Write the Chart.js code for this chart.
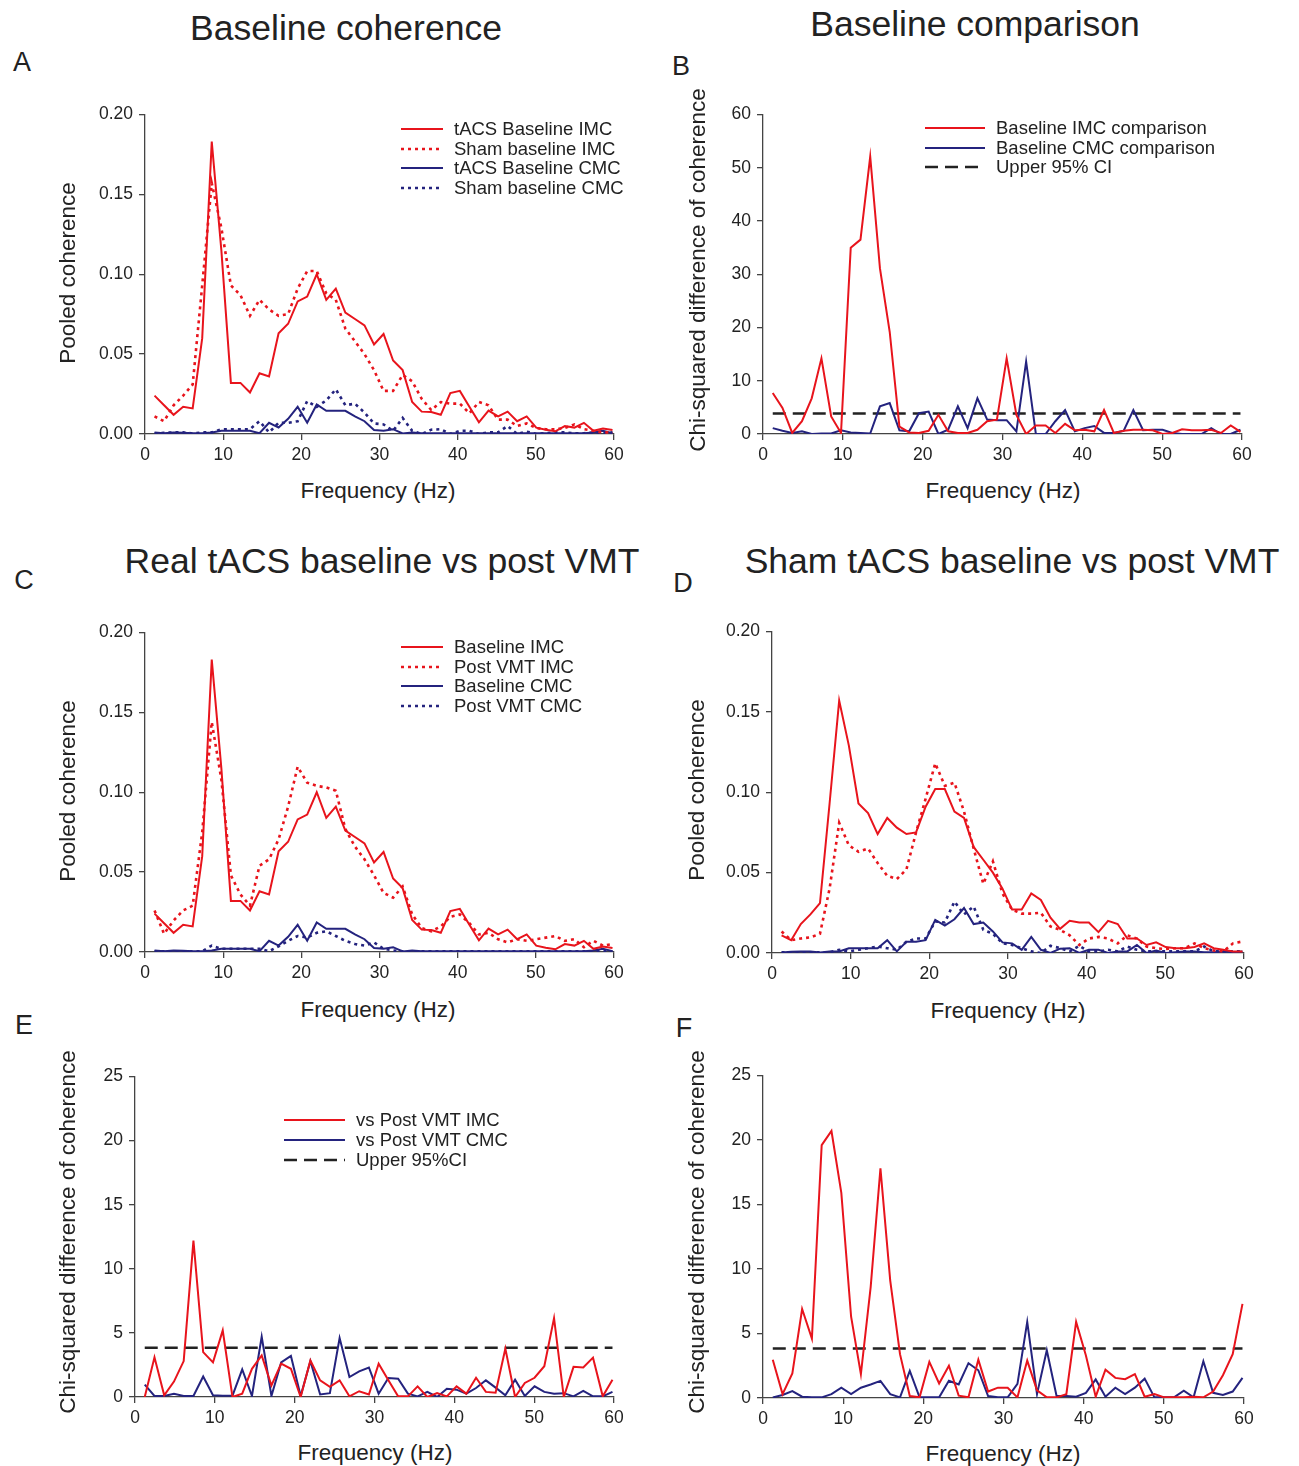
<!DOCTYPE html>
<html>
<head>
<meta charset="utf-8">
<script src="https://cdn.jsdelivr.net/npm/chart.js@4.4.1/dist/chart.umd.min.js"></script>
<style>
body{margin:0;background:#fff;width:1299px;height:1466px;position:relative;overflow:hidden;font-family:"Liberation Sans",Arial,sans-serif;color:#222}
canvas{position:absolute}
.t{position:absolute;white-space:nowrap;line-height:1}
.title{font-size:35.5px;transform:translate(-50%,-50%)}
.letter{font-size:27px;transform:translate(-50%,-50%)}
.xt{font-size:22.5px;transform:translate(-50%,-50%)}
.yt{font-size:22.5px;transform:translate(-50%,-50%) rotate(-90deg)}
.leg{font-size:18.5px;transform:translateY(-50%)}
svg{position:absolute}
</style>
</head>
<body>
<script>
// frequency bins (Hz)
const freqs = [1.22, 2.44, 3.66, 4.88, 6.10, 7.32, 8.54, 9.77, 10.99, 12.21, 13.43, 14.65, 15.87, 17.09, 18.31, 19.53, 20.75, 21.97, 23.19, 24.41,
  25.63, 26.86, 28.08, 29.30, 30.52, 31.74, 32.96, 34.18, 35.40, 36.62, 37.84, 39.06, 40.28, 41.50, 42.72, 43.95, 45.17, 46.39, 47.61, 48.83,
  50.05, 51.27, 52.49, 53.71, 54.93, 56.15, 57.37, 58.59, 59.81];

const freqTicks = [0, 10, 20, 30, 40, 50, 60];
const cohTicks = [0, 0.05, 0.10, 0.15, 0.20];
const chiTicksB = [0, 10, 20, 30, 40, 50, 60];
const chiTicksEF = [0, 5, 10, 15, 20, 25];
const ciLevel = 3.84;

// pooled coherence
const tacsBaseIMC = [0.024, 0.018, 0.012, 0.017, 0.016, 0.060, 0.183, 0.115, 0.032, 0.032, 0.026, 0.038, 0.036, 0.063, 0.069, 0.083, 0.086, 0.100, 0.084, 0.091,
  0.076, 0.072, 0.068, 0.056, 0.0626, 0.046, 0.040, 0.020, 0.014, 0.0137, 0.012, 0.0256, 0.027, 0.017, 0.0073, 0.0146, 0.011, 0.014, 0.008, 0.011,
  0.004, 0.0027, 0.0017, 0.005, 0.004, 0.007, 0.002, 0.0035, 0.0025];
const shamBaseIMC = [0.011, 0.008, 0.018, 0.024, 0.031, 0.093, 0.157, 0.129, 0.093, 0.087, 0.074, 0.084, 0.078, 0.074, 0.075, 0.091, 0.102, 0.102, 0.088, 0.084,
  0.066, 0.058, 0.050, 0.040, 0.027, 0.027, 0.037, 0.033, 0.022, 0.015, 0.020, 0.019, 0.019, 0.013, 0.020, 0.018, 0.009, 0.009, 0.005, 0.0066,
  0.0037, 0.003, 0.003, 0.0037, 0.006, 0.003, 0.002, 0.001, 0.001];
const tacsBaseCMC = [0.001, 0.0005, 0.001, 0.0008, 0.0005, 0.0005, 0.001, 0.002, 0.002, 0.002, 0.002, 0.0005, 0.007, 0.004, 0.0095, 0.017, 0.007, 0.0185, 0.0145, 0.0145,
  0.0145, 0.011, 0.008, 0.0025, 0.002, 0.003, 0.0003, 0.001, 0.0005, 0.0005, 0.0005, 0.0005, 0.0005, 0.0005, 0.0005, 0.0005, 0.0005, 0.0005, 0.0005, 0.0005,
  0.0005, 0.0005, 0.0005, 0.0005, 0.0005, 0.0005, 0.001, 0.002, 0.0005];
const shamBaseCMC = [0.0003, 0.0008, 0.001, 0.001, 0.0003, 0.001, 0.001, 0.003, 0.003, 0.003, 0.003, 0.008, 0.001, 0.007, 0.007, 0.008, 0.0206, 0.017, 0.021, 0.028,
  0.018, 0.019, 0.0134, 0.0066, 0.006, 0.002, 0.010, 0.002, 0, 0.0027, 0.003, 0, 0.002, 0.002, 0, 0.001, 0.001, 0.005, 0, 0.0015,
  0, 0.0005, 0.001, 0.001, 0.0005, 0.0005, 0.001, 0.0005, 0.001];
const postVmtIMC = [0.026, 0.0114, 0.0197, 0.026, 0.029, 0.075, 0.144, 0.108, 0.048, 0.036, 0.029, 0.054, 0.058, 0.0705, 0.091, 0.116, 0.106, 0.104, 0.103, 0.101,
  0.077, 0.066, 0.058, 0.048, 0.037, 0.034, 0.041, 0.0235, 0.015, 0.013, 0.016, 0.022, 0.0235, 0.018, 0.011, 0.012, 0.008, 0.006, 0.008, 0.007,
  0.008, 0.009, 0.010, 0.007, 0.008, 0.003, 0.007, 0.004, 0.005];
const postVmtCMC = [0.0005, 0.0005, 0.0005, 0.0005, 0.0005, 0.0005, 0.004, 0.002, 0.002, 0.002, 0.002, 0.002, 0.0005, 0.0035, 0.007, 0.010, 0.009, 0.012, 0.013, 0.010,
  0.007, 0.005, 0.004, 0.006, 0.002, 0.001, 0.0005, 0.0005, 0.0005, 0.0005, 0.0005, 0.0005, 0.0005, 0.0005, 0.0005, 0.0005, 0.0005, 0.0005, 0.0005, 0.0005,
  0.0005, 0.0005, 0.0005, 0.0005, 0.0005, 0.0005, 0.0005, 0.0005, 0.0005];
const shamPostIMC = [0.0134, 0.008, 0.009, 0.0097, 0.012, 0.040, 0.081, 0.067, 0.063, 0.065, 0.056, 0.048, 0.046, 0.052, 0.075, 0.096, 0.118, 0.104, 0.106, 0.088,
  0.065, 0.043, 0.057, 0.037, 0.027, 0.0245, 0.0245, 0.025, 0.0165, 0.0144, 0.011, 0.005, 0.009, 0.010, 0.009, 0.006, 0.011, 0.009, 0.004, 0.003,
  0.0025, 0.003, 0.003, 0.006, 0.003, 0.0016, 0.001, 0.006, 0.0072];
const shamPostCMC = [0.0005, 0.0005, 0.0005, 0.0005, 0.0005, 0.0005, 0.002, 0.001, 0.002, 0.003, 0.004, 0.003, 0.002, 0.007, 0.009, 0.009, 0.0196, 0.019, 0.032, 0.024,
  0.029, 0.0144, 0.012, 0.006, 0.005, 0.003, 0.001, 0, 0.0045, 0.003, 0.001, 0.0045, 0.001, 0.001, 0.002, 0.001, 0.004, 0.002, 0.001, 0.001,
  0.001, 0.001, 0.001, 0.001, 0.004, 0.001, 0.001, 0.001, 0.001];

// chi-squared difference of coherence
const chiBaseIMC = [7.7, 4.9, 0.2, 2.4, 6.7, 14.2, 3.3, 0.2, 35.0, 36.5, 52.1, 31.1, 19.2, 1.4, 0.3, 0.2, 0.6, 3.6, 0.5, 0.2,
  0.2, 0.8, 2.4, 2.7, 14.2, 3.6, 0, 1.6, 1.6, 0.2, 1.9, 0.7, 0.8, 0.5, 4.5, 0.2, 0.6, 0.8, 0.8, 0.7,
  0, 0.2, 0.9, 0.7, 0.7, 0.8, 0.2, 1.6, 0.4];
const chiBaseCMC = [1.1, 0.6, 0.2, 0.5, 0, 0.1, 0.1, 0.7, 0.3, 0.2, 0.1, 5.2, 5.8, 0.7, 0.5, 3.9, 4.2, 0, 0.8, 5.2,
  1.1, 6.7, 2.7, 2.6, 2.6, 0.5, 13.6, 0, 0, 2.4, 4.5, 0.5, 1.1, 1.5, 0.2, 0.2, 0.6, 4.5, 0.7, 0.8,
  0.8, 0.2, 0, 0, 0, 1.1, 0, 0, 0.8];
const chiRealIMC = [0, 3.1, 0.13, 1.2, 2.8, 12.2, 3.5, 2.7, 5.2, 0, 0.26, 2.2, 3.25, 0.9, 2.6, 2.2, 0, 2.85, 1.3, 0.8,
  1.3, 0.05, 0.45, 0.2, 2.6, 1.3, 0.05, 0.05, 0.83, 0, 0.3, 0.05, 0.83, 0.26, 1.5, 0.4, 0.34, 3.77, 0, 1.1,
  1.5, 2.4, 6.15, 0, 2.35, 2.3, 3.07, 0.05, 1.35];
const chiRealCMC = [0.96, 0.08, 0.08, 0.26, 0.08, 0.08, 1.6, 0.13, 0.1, 0.1, 2.15, 0.08, 4.7, 0.08, 2.7, 3.2, 0.08, 2.8, 0.2, 0.3,
  4.6, 1.56, 2.0, 2.3, 0.26, 1.48, 1.43, 0.26, 0.05, 0.4, 0, 0.65, 0.57, 0.26, 0.7, 1.3, 0.73, 0.13, 1.35, 0.08,
  0.83, 0.4, 0.26, 0.3, 0.05, 0.47, 0.05, 0.05, 0.4];
const chiShamIMC = [2.97, 0.3, 1.9, 6.9, 4.6, 19.6, 20.7, 15.9, 6.3, 1.85, 8.6, 17.8, 9.1, 3.4, 0.15, 0.05, 2.8, 1.13, 2.5, 0.18,
  0.05, 2.97, 0.5, 0.8, 0.8, 0.05, 2.9, 0.6, 0.05, 0.05, 0.3, 5.9, 3.3, 0.1, 2.2, 1.56, 1.46, 1.85, 0.1, 0.3,
  0.05, 0.05, 0.05, 0.1, 0.05, 0.5, 1.77, 3.4, 7.3];
const chiShamCMC = [0.05, 0.23, 0.54, 0.1, 0.05, 0.05, 0.3, 0.8, 0.3, 0.8, 1.05, 1.33, 0.3, 0.05, 2.1, 0.05, 0.05, 0.05, 1.33, 1.05,
  2.7, 2.15, 0.15, 0.05, 0.05, 1.1, 5.9, 0.3, 3.7, 0.15, 0.15, 0.1, 0.4, 1.44, 0.1, 0.8, 0.3, 0.8, 1.5, 0.05,
  0.05, 0.05, 0.56, 0.05, 2.85, 0.4, 0.23, 0.5, 1.56];

const RED = '#e8141c';
const BLUE = '#24237e';
const DOT = [3, 4];
const DASH = [13, 7];

Chart.defaults.font.family = '"Liberation Sans", Arial, sans-serif';
Chart.defaults.color = '#222';

function series(label, vals, color, dash) {
  return {
    label: label,
    data: freqs.map((f, i) => ({x: f, y: vals[i]})),
    borderColor: color,
    borderWidth: dash ? 2.6 : 2,
    borderDash: dash || [],
    pointRadius: 0,
    fill: false,
    tension: 0
  };
}

function ciLine(label) {
  return series(label, freqs.map(() => ciLevel), '#222', DASH);
}

function panel(box, datasets, yTicks, yFmt) {
  const ML = 70, MT = 15, MR = 22, MB = 40;
  const w = box.x1 - box.x0 + ML + MR, h = box.yb - box.yt + MT + MB;
  const c = document.createElement('canvas');
  c.width = w; c.height = h;
  c.style.left = (box.x0 - ML) + 'px';
  c.style.top = (box.yt - MT) + 'px';
  c.style.width = w + 'px';
  c.style.height = h + 'px';
  document.body.appendChild(c);
  const axis = {
    grid: {display: true, drawOnChartArea: false, drawTicks: true, tickLength: 6, color: '#444', lineWidth: 1.3},
    border: {display: true, color: '#444', width: 1.3}
  };
  return new Chart(c, {
    type: 'line',
    data: {datasets: datasets},
    options: {
      responsive: false,
      animation: false,
      devicePixelRatio: 1,
      layout: {padding: {left: 0, top: MT, right: MR, bottom: 0}},
      plugins: {legend: {display: false}, tooltip: {enabled: false}},
      scales: {
        x: Object.assign({
          type: 'linear', min: 0, max: 60,
          afterBuildTicks: s => { s.ticks = freqTicks.map(v => ({value: v})); },
          afterFit: s => { s.height = MB; },
          ticks: {font: {size: 17.5}, color: '#222', padding: 5, maxRotation: 0}
        }, axis),
        y: Object.assign({
          type: 'linear', min: yTicks[0], max: yTicks[yTicks.length - 1],
          afterBuildTicks: s => { s.ticks = yTicks.map(v => ({value: v})); },
          afterFit: s => { s.width = ML; },
          ticks: {font: {size: 17.5}, color: '#222', padding: 6, callback: yFmt}
        }, axis)
      }
    }
  });
}

function text(cls, str, x, y) {
  const d = document.createElement('div');
  d.className = 't ' + cls;
  d.textContent = str;
  d.style.left = x + 'px';
  d.style.top = y + 'px';
  document.body.appendChild(d);
}

function legend(chart, x, y, len, gap) {
  chart.data.datasets.forEach((ds, i) => {
    const yy = y + i * gap;
    const ns = 'http://www.w3.org/2000/svg';
    const svg = document.createElementNS(ns, 'svg');
    svg.setAttribute('width', len);
    svg.setAttribute('height', 8);
    svg.style.left = x + 'px';
    svg.style.top = (yy - 4) + 'px';
    const ln = document.createElementNS(ns, 'line');
    ln.setAttribute('x1', 0); ln.setAttribute('y1', 4);
    ln.setAttribute('x2', len); ln.setAttribute('y2', 4);
    ln.setAttribute('stroke', ds.borderColor);
    ln.setAttribute('stroke-width', ds.borderWidth);
    if (ds.borderDash.length) ln.setAttribute('stroke-dasharray', ds.borderDash.join(' '));
    svg.appendChild(ln);
    document.body.appendChild(svg);
    text('leg', ds.label, x + len + 11, yy);
  });
}

const fmtCoh = v => v.toFixed(2);
const fmtInt = v => String(v);

const chartA = panel({x0: 145, x1: 614, yt: 113, yb: 434}, [
  series('tACS Baseline IMC', tacsBaseIMC, RED),
  series('Sham baseline IMC', shamBaseIMC, RED, DOT),
  series('tACS Baseline CMC', tacsBaseCMC, BLUE),
  series('Sham baseline CMC', shamBaseCMC, BLUE, DOT)
], cohTicks, fmtCoh);

const chartB = panel({x0: 763, x1: 1242, yt: 113, yb: 434}, [
  series('Baseline IMC comparison', chiBaseIMC, RED),
  series('Baseline CMC comparison', chiBaseCMC, BLUE),
  ciLine('Upper 95% CI')
], chiTicksB, fmtInt);

const chartC = panel({x0: 145, x1: 614, yt: 631, yb: 952}, [
  series('Baseline IMC', tacsBaseIMC, RED),
  series('Post VMT IMC', postVmtIMC, RED, DOT),
  series('Baseline CMC', tacsBaseCMC, BLUE),
  series('Post VMT CMC', postVmtCMC, BLUE, DOT)
], cohTicks, fmtCoh);

const chartD = panel({x0: 772, x1: 1244, yt: 630, yb: 953}, [
  series('Baseline IMC', shamBaseIMC, RED),
  series('Post VMT IMC', shamPostIMC, RED, DOT),
  series('Baseline CMC', shamBaseCMC, BLUE),
  series('Post VMT CMC', shamPostCMC, BLUE, DOT)
], cohTicks, fmtCoh);

const chartE = panel({x0: 135, x1: 614, yt: 1075, yb: 1397}, [
  series('vs Post VMT IMC', chiRealIMC, RED),
  series('vs Post VMT CMC', chiRealCMC, BLUE),
  ciLine('Upper 95%CI')
], chiTicksEF, fmtInt);

const chartF = panel({x0: 763, x1: 1244, yt: 1074, yb: 1398}, [
  series('vs Post VMT IMC', chiShamIMC, RED),
  series('vs Post VMT CMC', chiShamCMC, BLUE),
  ciLine('Upper 95%CI')
], chiTicksEF, fmtInt);

legend(chartA, 401, 129, 42, 19.7);
legend(chartB, 925, 128, 60, 19.7);
legend(chartC, 401, 647, 42, 19.7);
legend(chartE, 284, 1120, 61, 20);

text('title', 'Baseline coherence', 346, 29);
text('title', 'Baseline comparison', 975, 25);
text('title', 'Real tACS baseline vs post VMT', 382, 562);
text('title', 'Sham tACS baseline vs post VMT', 1012, 562);

text('letter', 'A', 22, 62);
text('letter', 'B', 681, 66);
text('letter', 'C', 24, 580);
text('letter', 'D', 683, 583);
text('letter', 'E', 24, 1025);
text('letter', 'F', 684, 1028);

text('xt', 'Frequency (Hz)', 378, 491);
text('xt', 'Frequency (Hz)', 1003, 491);
text('xt', 'Frequency (Hz)', 378, 1010);
text('xt', 'Frequency (Hz)', 1008, 1011);
text('xt', 'Frequency (Hz)', 375, 1453);
text('xt', 'Frequency (Hz)', 1003, 1454);

text('yt', 'Pooled coherence', 68, 273);
text('yt', 'Chi-squared difference of coherence', 698, 270);
text('yt', 'Pooled coherence', 68, 791);
text('yt', 'Pooled coherence', 697, 790);
text('yt', 'Chi-squared difference of coherence', 68, 1232);
text('yt', 'Chi-squared difference of coherence', 697, 1232);
</script>
</body>
</html>
